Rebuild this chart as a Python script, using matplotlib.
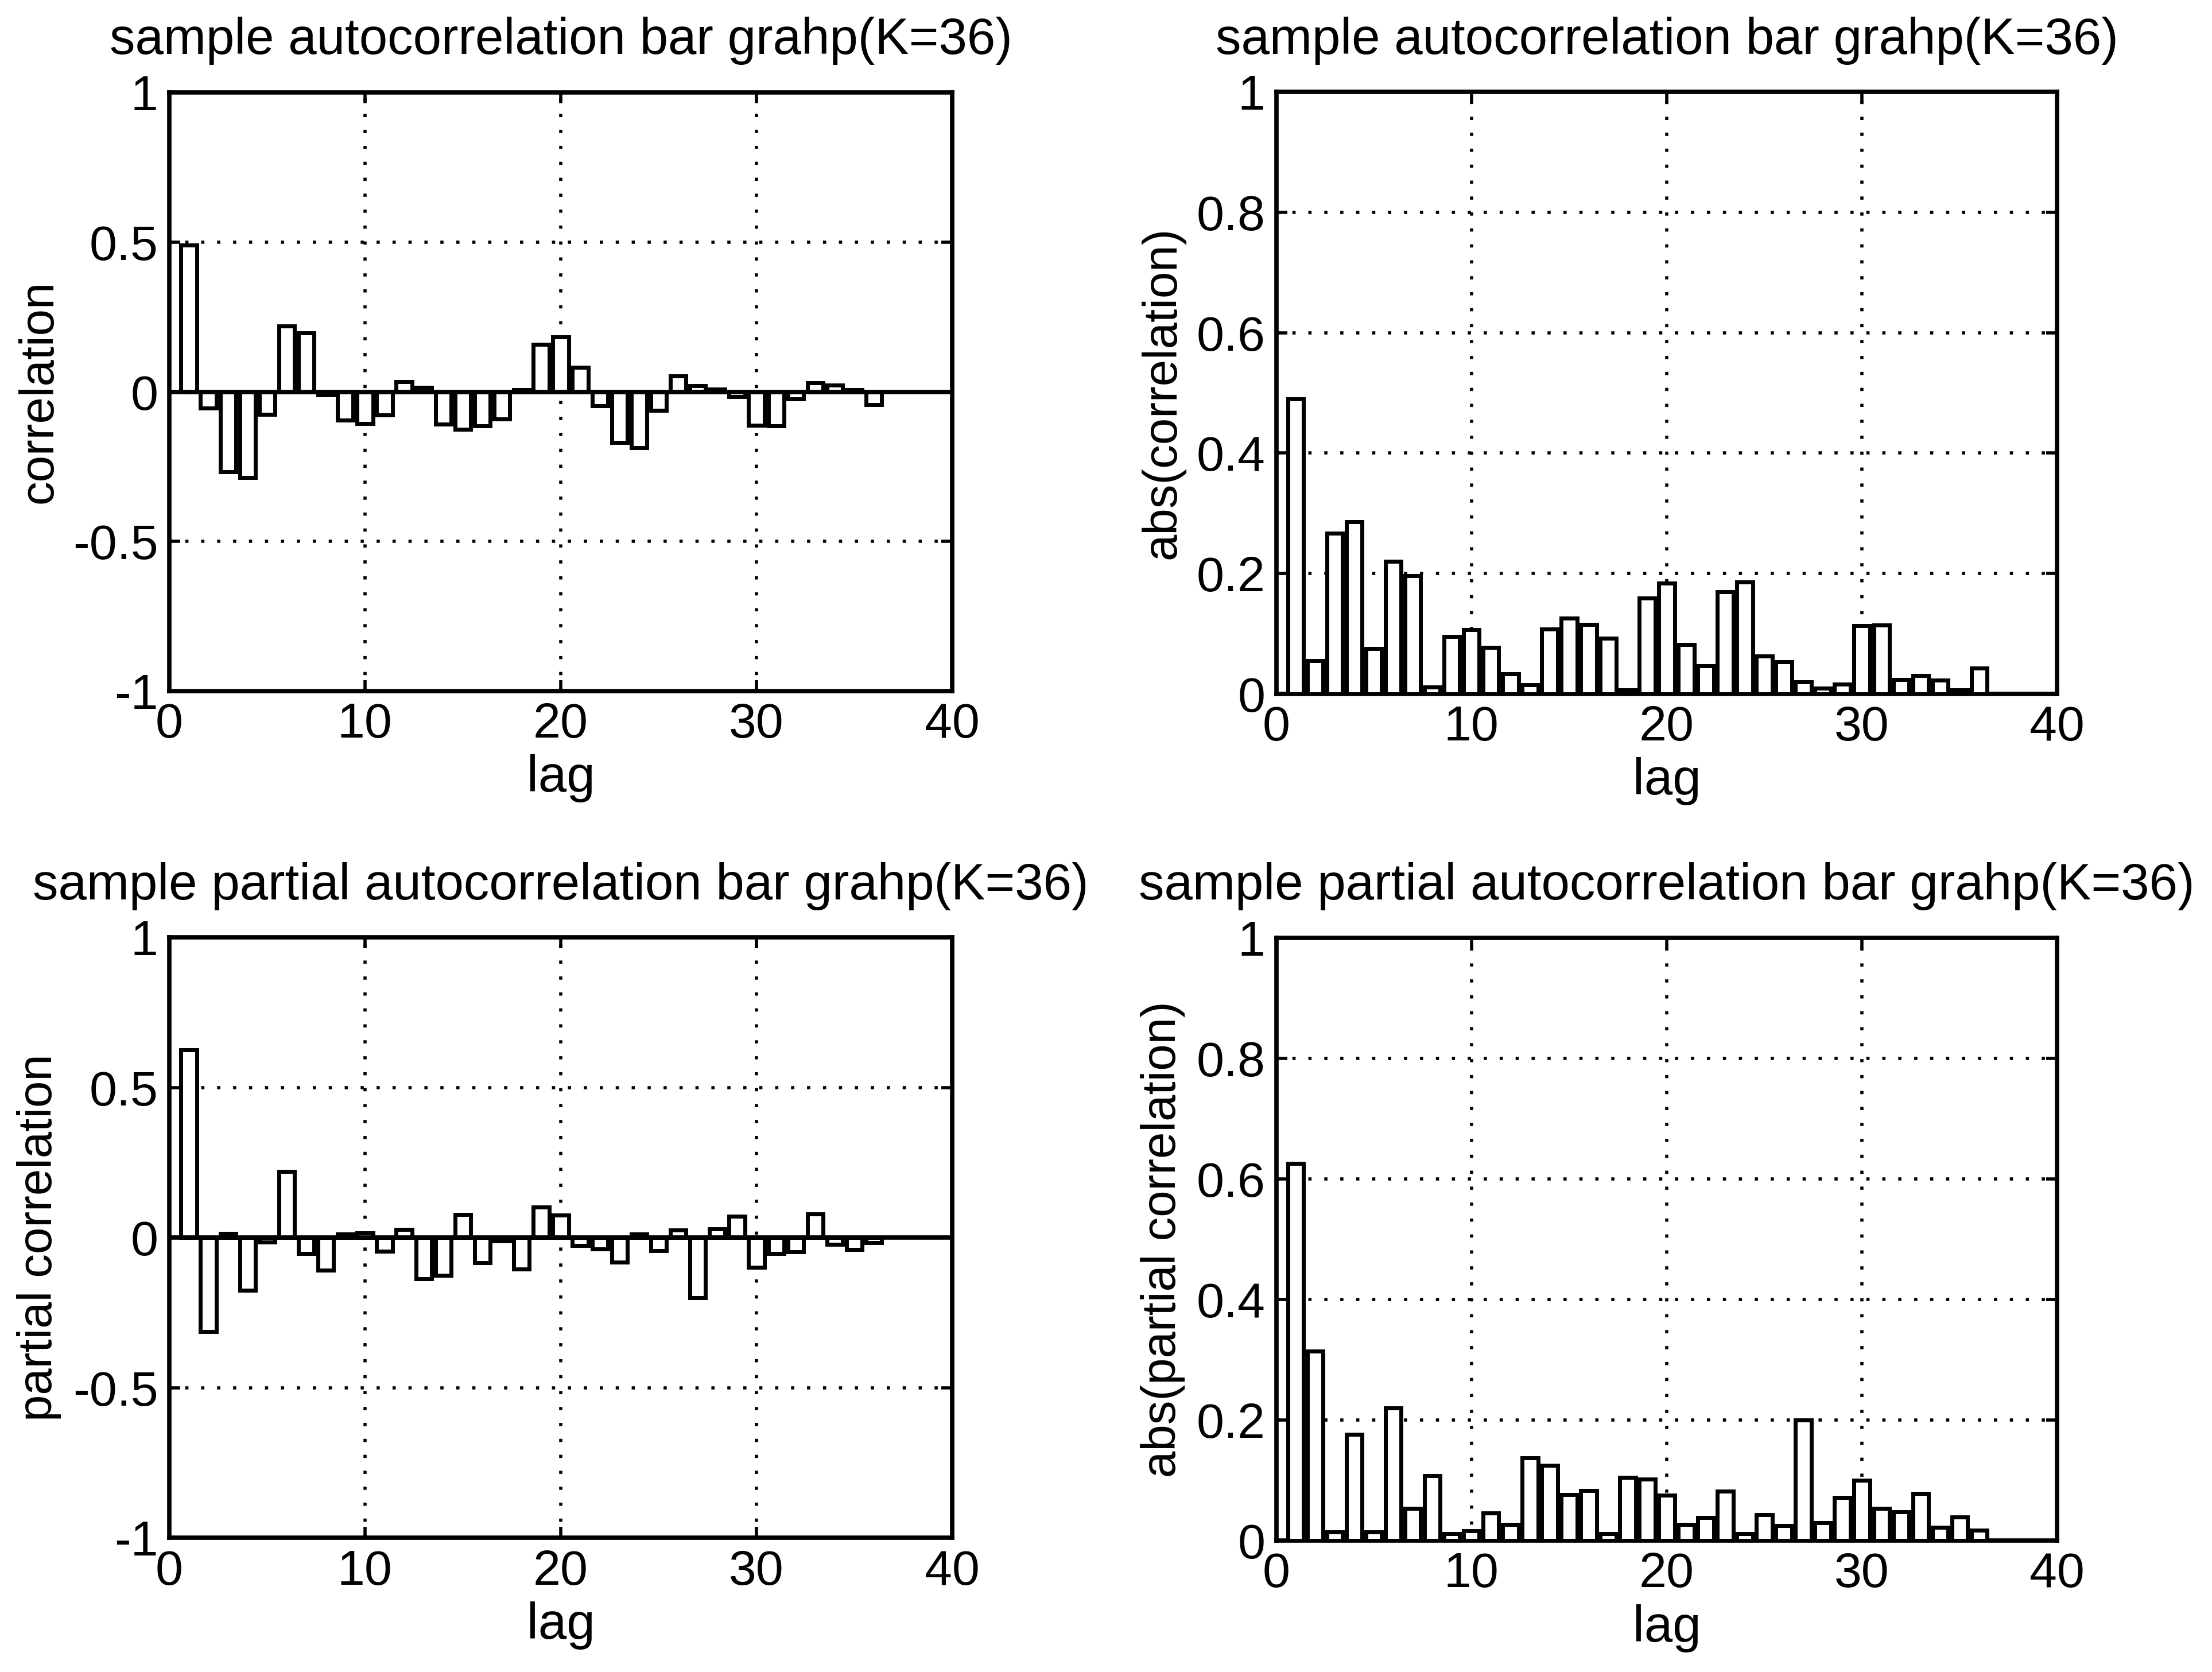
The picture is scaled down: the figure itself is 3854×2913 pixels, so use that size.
import numpy as np
import matplotlib
matplotlib.use("Agg")
import matplotlib.pyplot as plt

# lags 1..36
lags = np.arange(1, 37)

acf = [0.49, -0.055, -0.267, -0.286, -0.075, 0.22, 0.196, -0.011, -0.095, -0.107,
       -0.077, 0.033, 0.015, -0.108, -0.126, -0.115, -0.092, 0.007, 0.159, 0.184,
       0.082, -0.047, -0.17, -0.186, -0.063, 0.053, 0.02, 0.009, -0.016, -0.113,
       -0.114, -0.024, 0.03, 0.023, 0.007, -0.043]

pacf = [0.626, -0.314, 0.014, -0.176, -0.014, 0.22, -0.053, -0.108, 0.011, 0.016,
        -0.046, 0.027, -0.137, -0.125, 0.076, -0.083, -0.011, -0.105, 0.102, 0.075,
        -0.027, -0.038, -0.082, 0.011, -0.043, 0.025, -0.2, 0.03, 0.071, -0.1,
        -0.053, -0.048, 0.078, -0.022, -0.039, -0.017]

titles = ["sample autocorrelation bar grahp(K=36)",
          "sample autocorrelation bar grahp(K=36)",
          "sample partial autocorrelation bar grahp(K=36)",
          "sample partial autocorrelation bar grahp(K=36)"]
ylabels = ["correlation", "abs(correlation)",
           "partial correlation", "abs(partial correlation)"]

signed_ticks = [-1, -0.5, 0, 0.5, 1]
signed_labels = ["-1", "-0.5", "0", "0.5", "1"]
abs_ticks = [0, 0.2, 0.4, 0.6, 0.8, 1]
abs_labels = ["0", "0.2", "0.4", "0.6", "0.8", "1"]
x_ticks = [0, 10, 20, 30, 40]

plt.rcParams['font.family'] = ['Liberation Sans', 'DejaVu Sans']

fig = plt.figure(figsize=(38.54, 29.13), dpi=100)
positions = [[0.0765, 0.5867, 0.354, 0.358],
             [0.577, 0.585, 0.353, 0.360],
             [0.0765, 0.0803, 0.354, 0.359],
             [0.577, 0.0786, 0.353, 0.3605]]

series = [np.array(acf), np.abs(acf), np.array(pacf), np.abs(pacf)]

for i, (pos, vals) in enumerate(zip(positions, series)):
    ax = fig.add_axes(pos)
    signed = i in (0, 2)
    ax.bar(lags, vals, width=0.8, facecolor='white', edgecolor='black',
           linewidth=5, zorder=3)
    ax.set_xlim(0, 40)
    if signed:
        ax.set_ylim(-1, 1)
        ax.set_yticks(signed_ticks)
        ax.set_yticklabels(signed_labels)
        ax.axhline(0, color='black', linewidth=5.5, zorder=4)
    else:
        ax.set_ylim(0, 1)
        ax.set_yticks(abs_ticks)
        ax.set_yticklabels(abs_labels)
    ax.set_xticks(x_ticks)
    ax.set_xticklabels([str(t) for t in x_ticks])
    ax.grid(True, linestyle=(0, (1, 4)), color='black', linewidth=4, zorder=0)
    ax.tick_params(direction='in', length=14, width=4, top=True, right=True,
                   labelsize=62, pad=14)
    for sp in ax.spines.values():
        sp.set_linewidth(5.5)
    ax.set_title(titles[i], fontsize=64, pad=48)
    ax.set_xlabel("lag", fontsize=64, labelpad=8)
    ax.set_ylabel(ylabels[i], fontsize=60, labelpad=14)

fig.savefig("out.png", dpi=100, facecolor='white')
